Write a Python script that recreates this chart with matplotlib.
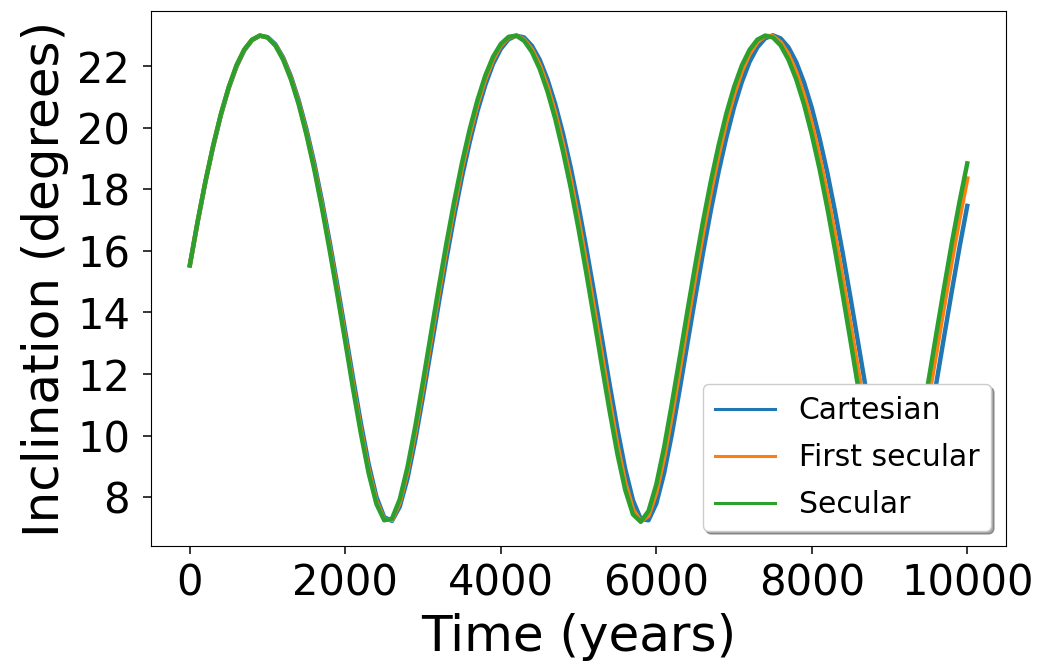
import numpy as np
import matplotlib
matplotlib.use('Agg')
import matplotlib.pyplot as plt

# sampled every 100 years
years = np.arange(0, 10001, 100)

cartesian = [
    15.53, 16.93, 18.23, 19.38, 20.41, 21.28, 21.98, 22.51, 22.84, 22.99,
    22.94, 22.71, 22.28, 21.67, 20.89, 19.95, 18.86, 17.62, 16.28, 14.85,
    13.37, 11.86, 10.41, 9.08, 8.01, 7.35, 7.23, 7.69, 8.61, 9.86,
    11.28, 12.77, 14.27, 15.73, 17.11, 18.39, 19.53, 20.54, 21.38, 22.07,
    22.56, 22.87, 22.99, 22.93, 22.66, 22.21, 21.57, 20.77, 19.81, 18.70,
    17.45, 16.09, 14.65, 13.17, 11.66, 10.22, 8.92, 7.90, 7.29, 7.25,
    7.79, 8.77, 10.04, 11.48, 12.98, 14.47, 15.92, 17.29, 18.55, 19.67,
    20.66, 21.48, 22.14, 22.61, 22.90, 23.00, 22.90, 22.61, 22.13, 21.47,
    20.65, 19.66, 18.54, 17.27, 15.90, 14.45, 12.96, 11.46, 10.03, 8.76,
    7.78, 7.25, 7.30, 7.90, 8.93, 10.23, 11.67, 13.18, 14.67, 16.11,
    17.46,
]

first_secular = [
    15.53, 16.94, 18.24, 19.41, 20.44, 21.30, 22.01, 22.53, 22.85, 22.99,
    22.93, 22.68, 22.24, 21.61, 20.81, 19.84, 18.73, 17.47, 16.11, 14.66,
    13.16, 11.64, 10.19, 8.89, 7.87, 7.28, 7.26, 7.83, 8.84, 10.13,
    11.58, 13.10, 14.60, 16.05, 17.42, 18.68, 19.79, 20.77, 21.57, 22.21,
    22.67, 22.93, 22.99, 22.86, 22.54, 22.04, 21.34, 20.48, 19.45, 18.29,
    17.00, 15.59, 14.12, 12.61, 11.12, 9.69, 8.48, 7.60, 7.21, 7.40,
    8.15, 9.28, 10.65, 12.12, 13.64, 15.13, 16.56, 17.89, 19.10, 20.17,
    21.08, 21.83, 22.40, 22.78, 22.98, 22.97, 22.77, 22.38, 21.80, 21.05,
    20.13, 19.05, 17.83, 16.50, 15.07, 13.58, 12.06, 10.59, 9.23, 8.11,
    7.39, 7.22, 7.63, 8.52, 9.75, 11.18, 12.67, 14.18, 15.66, 17.06,
    18.35,
]

secular = [
    15.53, 16.95, 18.25, 19.42, 20.45, 21.32, 22.03, 22.54, 22.86, 22.99,
    22.93, 22.67, 22.21, 21.57, 20.76, 19.77, 18.65, 17.38, 16.00, 14.54,
    13.04, 11.51, 10.07, 8.78, 7.78, 7.25, 7.30, 7.93, 8.98, 10.30,
    11.77, 13.29, 14.79, 16.24, 17.60, 18.85, 19.95, 20.90, 21.69, 22.30,
    22.72, 22.95, 22.99, 22.82, 22.46, 21.91, 21.18, 20.29, 19.23, 18.04,
    16.71, 15.28, 13.79, 12.27, 10.79, 9.40, 8.24, 7.44, 7.20, 7.55,
    8.41, 9.61, 11.03, 12.52, 14.04, 15.52, 16.94, 18.24, 19.41, 20.45,
    21.32, 22.02, 22.53, 22.86, 22.99, 22.93, 22.67, 22.21, 21.57, 20.76,
    19.78, 18.66, 17.39, 16.01, 14.55, 13.05, 11.52, 10.07, 8.79, 7.79,
    7.25, 7.30, 7.92, 8.98, 10.29, 11.76, 13.28, 14.78, 16.24, 17.59,
    18.84,
]

fig = plt.figure(figsize=(10.41, 6.66), dpi=100)
ax = fig.add_axes([0.145, 0.18, 0.8215, 0.8035])

ax.plot(years, cartesian, color='tab:blue', lw=3.2, label='Cartesian')
ax.plot(years, first_secular, color='tab:orange', lw=3.2, label='First secular')
ax.plot(years, secular, color='tab:green', lw=3.2, label='Secular')

ax.set_xticks([0, 2000, 4000, 6000, 8000, 10000])
ax.set_yticks([8, 10, 12, 14, 16, 18, 20, 22])
ax.tick_params(labelsize=30, length=6, width=1.1)
ax.tick_params(axis='x', pad=6)
ax.tick_params(axis='y', pad=9)
ax.set_xlabel('Time (years)', fontsize=36, labelpad=6)
ax.set_ylabel('Inclination (degrees)', fontsize=36, labelpad=6)

leg = ax.legend(loc='lower right', fontsize=21.5, shadow=True, framealpha=1.0,
                labelspacing=0.6)
for line in leg.get_lines():
    line.set_linewidth(2.2)

fig.savefig('out.png', dpi=100)
